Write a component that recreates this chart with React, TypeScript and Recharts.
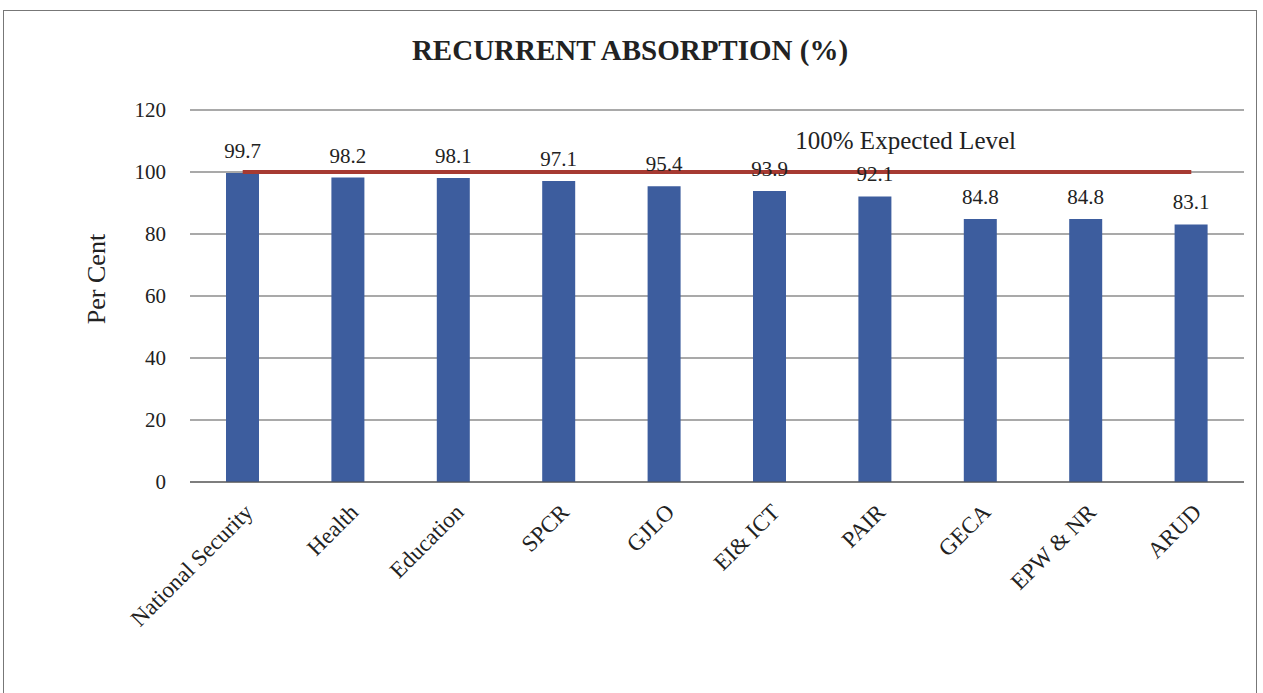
import React from 'react';
import {
  ComposedChart,
  Bar,
  Line,
  XAxis,
  YAxis,
  CartesianGrid,
  LabelList,
  ReferenceLine,
} from 'recharts';

const categories = [
  'National Security',
  'Health',
  'Education',
  'SPCR',
  'GJLO',
  'EI& ICT',
  'PAIR',
  'GECA',
  'EPW & NR',
  'ARUD',
];
const absorption = [99.7, 98.2, 98.1, 97.1, 95.4, 93.9, 92.1, 84.8, 84.8, 83.1];
const expected = [100, 100, 100, 100, 100, 100, 100, 100, 100, 100];
const yTicks = [0, 20, 40, 60, 80, 100, 120];
const title = 'RECURRENT ABSORPTION (%)';
const yLabel = 'Per Cent';
const lineLabel = '100% Expected Level';

const data = categories.map((name, i) => ({
  name,
  value: absorption[i],
  expected: expected[i],
}));

const FONT = '"Liberation Serif", "DejaVu Serif", serif';

const YLabel = (props: any) => {
  const vb = props.viewBox || {};
  const x = vb.x + 92;
  const y = vb.y + vb.height / 2 - 17;
  return (
    <text
      x={x}
      y={y}
      transform={`rotate(-90, ${x}, ${y})`}
      textAnchor="middle"
      dominantBaseline="central"
      fontFamily={FONT}
      fontSize={26}
      fill="#222"
    >
      {yLabel}
    </text>
  );
};

const ExpectedLabel = (props: any) => {
  const vb = props.viewBox || {};
  const x = vb.x + vb.width * 0.679;
  const y = vb.y - 32;
  return (
    <text
      x={x}
      y={y}
      textAnchor="middle"
      dominantBaseline="central"
      fontFamily={FONT}
      fontSize={25}
      fill="#222"
    >
      {lineLabel}
    </text>
  );
};

export default function App() {
  return (
    <div
      style={{
        position: 'absolute',
        left: 3,
        top: 10,
        width: 1252,
        height: 690,
        border: '1px solid #777',
        background: '#fff',
        fontFamily: FONT,
      }}
    >
      <div
        style={{
          position: 'absolute',
          left: 0,
          top: 22,
          width: 1252,
          paddingRight: 2,
          textAlign: 'center',
          fontFamily: FONT,
          fontWeight: 'bold',
          fontSize: 29,
          color: '#222',
          lineHeight: '34px',
        }}
      >
        {title}
      </div>
      <ComposedChart
        width={1252}
        height={681}
        data={data}
        margin={{ top: 99, right: 12, bottom: 0, left: 0 }}
        style={{ fontFamily: FONT }}
      >
        <CartesianGrid vertical={false} stroke="#555" strokeWidth={1.2} />
        <XAxis
          dataKey="name"
          height={210}
          interval={0}
          tickLine={false}
          axisLine={{ stroke: '#555', strokeWidth: 1.2 }}
          angle={-45}
          textAnchor="end"
          tickSize={0}
          tickMargin={20}
          tick={{ fontFamily: FONT, fontSize: 23, fill: '#222' }}
        />
        <YAxis
          width={186}
          domain={[0, 120]}
          ticks={yTicks}
          interval={0}
          tickLine={false}
          axisLine={false}
          tickSize={0}
          tickMargin={24}
          tick={{ fontFamily: FONT, fontSize: 21, fill: '#222' }}
          label={<YLabel />}
        />
        <Bar
          dataKey="value"
          fill="#3d5d9e"
          barSize={33}
          isAnimationActive={false}
        >
          <LabelList
            dataKey="value"
            position="top"
            offset={15}
            style={{ fontFamily: FONT, fontSize: 21, fill: '#222' }}
          />
        </Bar>
        <Line
          dataKey="expected"
          type="linear"
          stroke="#a63a32"
          strokeWidth={4}
          dot={false}
          activeDot={false}
          isAnimationActive={false}
        />
        <ReferenceLine
          y={100}
          stroke="none"
          label={<ExpectedLabel />}
        />
      </ComposedChart>
    </div>
  );
}
